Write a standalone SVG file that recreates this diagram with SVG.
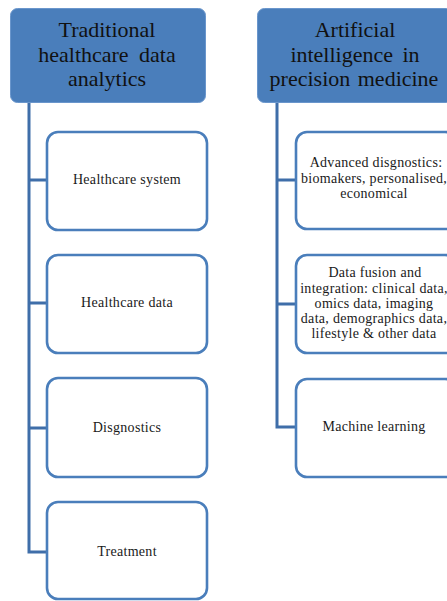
<svg xmlns="http://www.w3.org/2000/svg" width="447" height="601" viewBox="0 0 447 601">
<style>
.hdr{fill:#4a7ebb;stroke:#6a96cc;stroke-width:1}
.box{fill:#ffffff;stroke:#4a7ebb;stroke-width:2.6}
.con{fill:none;stroke:#3f6ea9;stroke-width:3}
.ht{font-family:"Liberation Serif","Times New Roman",serif;font-size:22px;fill:#111;text-anchor:middle}
.bt{font-family:"Liberation Serif","Times New Roman",serif;font-size:14px;fill:#1a1a1a;text-anchor:middle;letter-spacing:0.3px}
</style>
<rect width="447" height="601" fill="#ffffff"/>
<g id="connectors">
<path class="con" d="M29,103 V552 H47 M29,180 H47 M29,303 H47 M29,428 H47"/>
<path class="con" d="M277,102 V427 H296 M277,180 H296 M277,304 H296"/>
</g>
<g id="h1">
<rect class="hdr" x="10.5" y="8.5" width="195" height="94" rx="7"/>
<text class="ht" x="107" y="37">Traditional</text>
<text class="ht" x="107" y="62" word-spacing="5">healthcare data</text>
<text class="ht" x="107" y="86">analytics</text>
</g>
<g id="h2">
<rect class="hdr" x="257.5" y="8.5" width="196" height="94" rx="7"/>
<text class="ht" x="355" y="37">Artificial</text>
<text class="ht" x="355" y="62" word-spacing="4">intelligence in</text>
<text class="ht" x="354" y="86" word-spacing="2">precision medicine</text>
</g>
<g id="l1">
<rect class="box" x="47" y="132" width="160" height="98" rx="11"/>
<text class="bt" x="127" y="184">Healthcare system</text>
</g>
<g id="l2">
<rect class="box" x="47" y="255" width="160" height="98" rx="11"/>
<text class="bt" x="127" y="307">Healthcare data</text>
</g>
<g id="l3">
<rect class="box" x="47" y="378" width="160" height="99" rx="11"/>
<text class="bt" x="127" y="432">Disgnostics</text>
</g>
<g id="l4">
<rect class="box" x="47" y="502" width="160" height="97" rx="11"/>
<text class="bt" x="127" y="556">Treatment</text>
</g>
<g id="r1">
<rect class="box" x="296" y="132" width="160" height="97" rx="11"/>
<text class="bt" x="376" y="167">Advanced disgnostics:</text>
<text class="bt" x="374" y="183">biomakers, personalised,</text>
<text class="bt" x="374" y="198">economical</text>
</g>
<g id="r2">
<rect class="box" x="296" y="255" width="160" height="98" rx="11"/>
<text class="bt" x="375" y="277">Data fusion and</text>
<text class="bt" x="374" y="293">integration: clinical data,</text>
<text class="bt" x="374" y="308">omics data, imaging</text>
<text class="bt" x="374" y="323">data, demographics data,</text>
<text class="bt" x="374" y="338">lifestyle &amp; other data</text>
</g>
<g id="r3">
<rect class="box" x="296" y="379" width="160" height="98" rx="11"/>
<text class="bt" x="374" y="431">Machine learning</text>
</g>
</svg>
